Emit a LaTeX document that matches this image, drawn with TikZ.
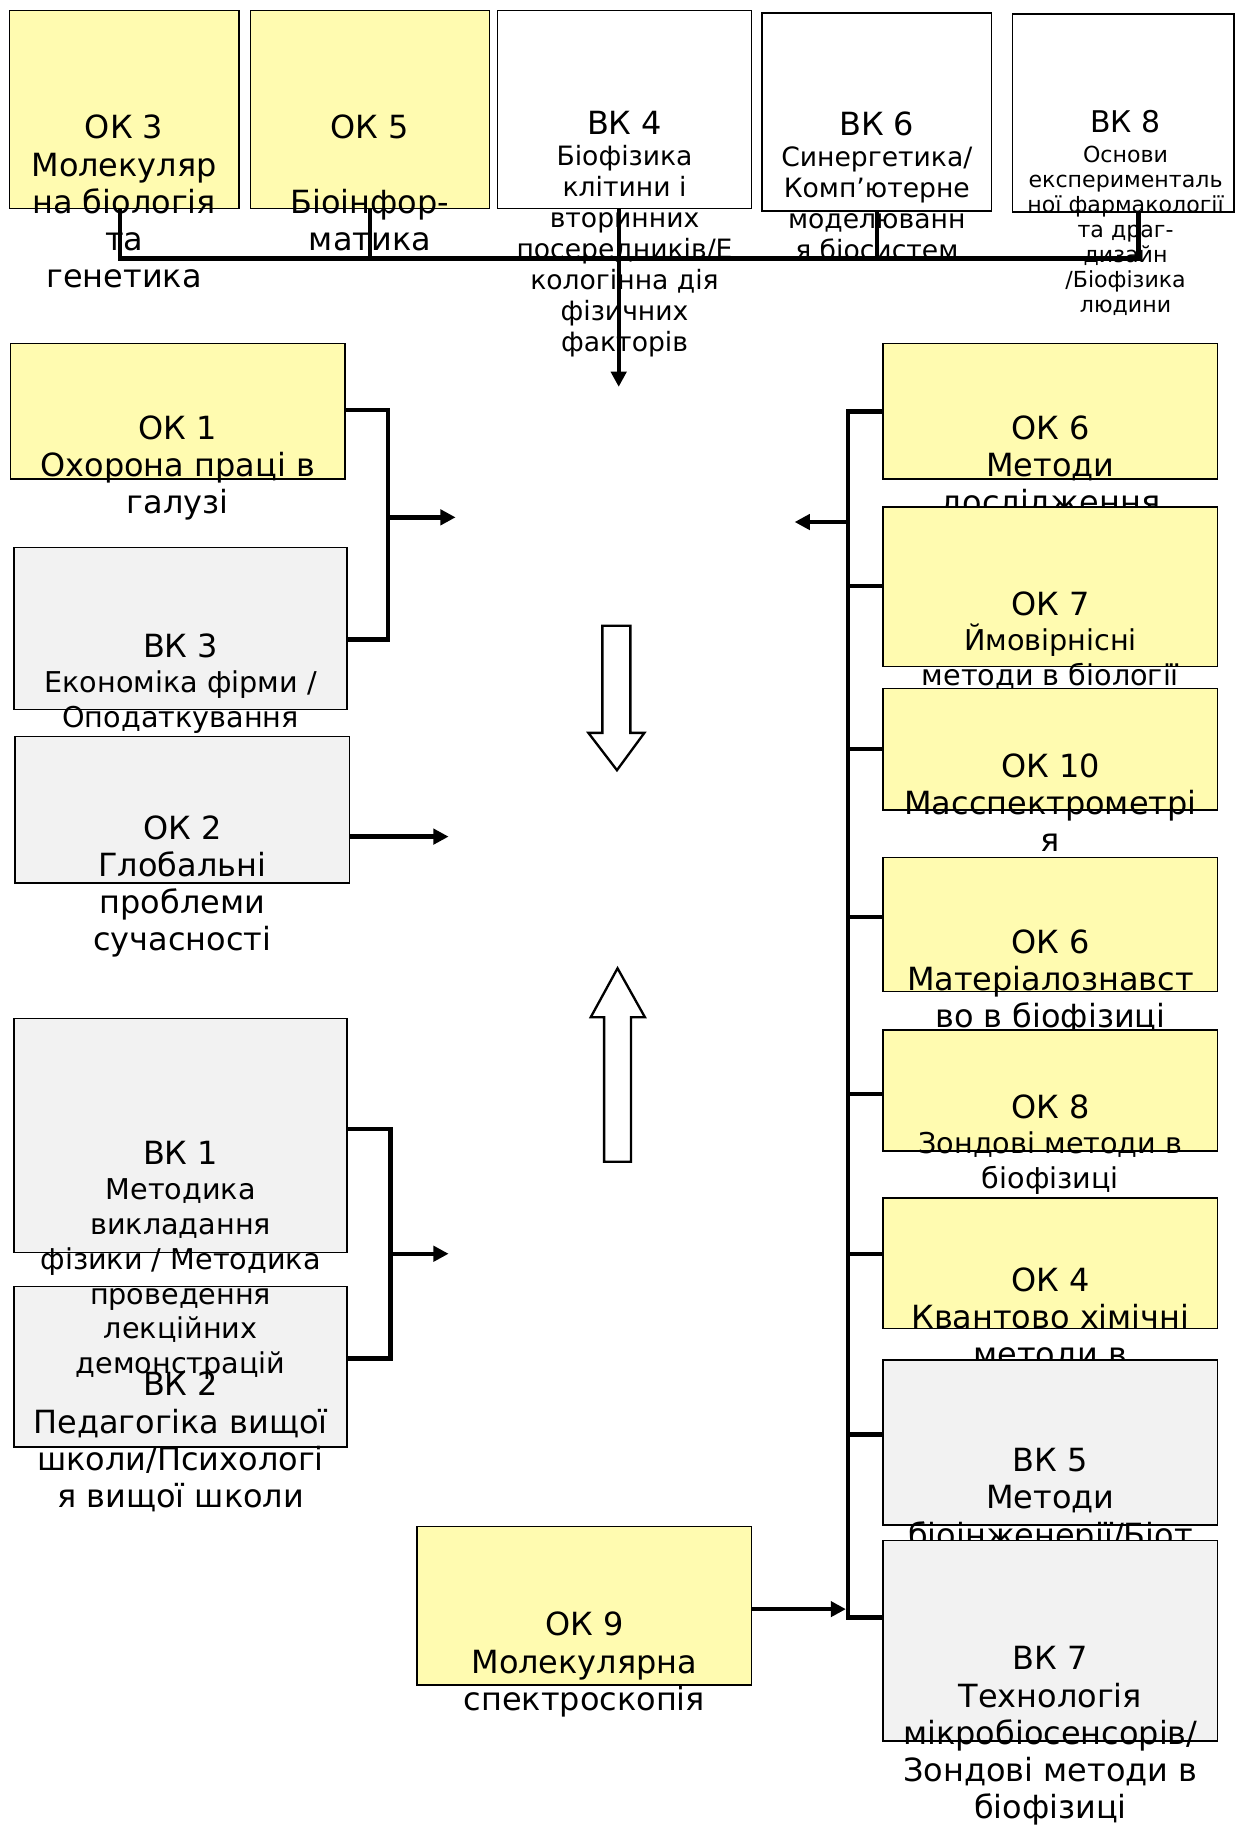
\documentclass[tikz,border=0pt]{standalone}
\usepackage{fontspec}
\setmainfont{DejaVu Sans}
\usetikzlibrary{arrows.meta,fit}
\definecolor{okyellow}{HTML}{FFFBB0}
\definecolor{vkgrey}{HTML}{F2F2F2}
\newcommand\fbig{\fontsize{7.8}{9.1}\selectfont}
\newcommand\fsub{\fontsize{7.0}{8.5}\selectfont}
\newcommand\fvk{\fontsize{6.5}{7.6}\selectfont}
\newcommand\fsmall{\fontsize{5.4}{6.1}\selectfont}
\tikzset{
  cbox/.style={draw=black, line width=0.13mm, inner sep=0pt},
  okbox/.style={cbox, fill=okyellow},
  vkbox/.style={cbox, fill=vkgrey},
  wbox/.style={cbox, fill=white},
  txt/.style={anchor=base, align=center, inner sep=0pt, font=\fbig},
  bus/.style={line width=0.38mm},
  busarrow/.style={bus, -{Triangle[length=1.3mm,width=1.3mm]}},
  hollow/.style={draw=black, line width=0.2mm, fill=white}
}
\begin{document}
\begin{tikzpicture}[x=0.1mm,y=-0.1mm]
    \useasboundingbox (0,0) rectangle (1060,1568);
    % top row (text placed by the baseline of its last line)
    \node[okbox, fit={(8,9) (205,179)}] (ok3) {};
    \node[txt] (ok3t) at (106.5,247) {ОК 3\\Молекуляр\\на біологія\\та\\генетика};
    \node[okbox, fit={(215,9) (420,179)}] (ok5) {};
    \node[txt] (ok5t) at (317.5,215) {ОК 5\\\mbox{}\\Біоінфор-\\матика};
    \node[wbox, fit={(427,9) (645,179)}] (vk4) {};
    \node[txt, font=\fvk] (vk4t) at (536,302) {{\fbig ВК 4}\\Біофізика\\клітини і\\вторинних\\посередників/Е\\кологінна дія\\фізичних\\факторів};
    \node[wbox, fit={(654,11) (851,181)}] (vk6) {};
    \node[txt, font=\fvk] (vk6t) at (752.5,223) {{\fbig ВК 6}\\Синергетика/\\Комп’ютерне\\моделюванн\\я біосистем};
    \node[wbox, fit={(869,12) (1059,182)}] (vk8) {};
    \node[txt, font=\fsmall] (vk8t) at (966,268) {{\fontsize{7.3}{6.1}\selectfont ВК 8}\\[1.2pt]Основи\\експерименталь\\ної фармакології\\та драг-\\дизайн\\/Біофізика\\людини};

    % left column
    \node[okbox, fit={(9,295) (296,411)}] (ok1) {};
    \node[txt] (ok1t) at (152.5,441) {ОК 1\\Охорона праці в\\галузі};
    \node[vkbox, fit={(12,470) (298,609)}] (vk3) {};
    \node[txt, font=\fsub] (vk3t) at (155,624) {{\fbig ВК 3}\\Економіка фірми /\\Оподаткування};
    \node[vkbox, fit={(13,632) (300,758)}] (ok2) {};
    \node[txt] (ok2t) at (156.5,816) {ОК 2\\Глобальні\\проблеми\\сучасності};
    \node[vkbox, fit={(12,1104) (298,1242)}] (vk2) {};
    \node[txt] (vk2t) at (155,1294) {ВК 2\\Педагогіка вищої\\школи/Психологі\\я вищої школи};
    \node[vkbox, fit={(12,874) (298,1075)}] (vk1) {};
    \node[txt, font=\fsub] (vk1t) at (155,1179) {{\fbig ВК 1}\\Методика\\викладання\\фізики / Методика\\проведення\\лекційних\\демонстрацій};

    % right column
    \node[okbox, fit={(758,295) (1045,411)}] (ok6) {};
    \node[txt] (ok6t) at (901.5,441) {ОК 6\\Методи\\дослідження};
    \node[okbox, fit={(758,435) (1045,572)}] (ok7) {};
    \node[txt, font=\fsub] (ok7t) at (901.5,588) {{\fbig ОК 7}\\Ймовірнісні\\методи в біології};
    \node[okbox, fit={(758,591) (1045,695)}] (ok10) {};
    \node[txt] (ok10t) at (901.5,731) {ОК 10\\Масспектрометрі\\я};
    \node[okbox, fit={(758,736) (1045,851)}] (ok6b) {};
    \node[txt] (ok6bt) at (901.5,882) {ОК 6\\Матеріалознавст\\во в біофізиці};
    \node[okbox, fit={(758,884) (1045,988)}] (ok8) {};
    \node[txt, font=\fsub] (ok8t) at (901.5,1020) {{\fbig ОК 8}\\Зондові методи в\\біофізиці};
    \node[okbox, fit={(758,1028) (1045,1140)}] (ok4) {};
    \node[txt] (ok4t) at (901.5,1172) {ОК 4\\Квантово хімічні\\методи в};
    \node[vkbox, fit={(758,1167) (1045,1309)}] (vk5) {};
    \node[txt] (vk5t) at (901.5,1327) {ВК 5\\Методи\\біоінженерії/Біот};
    \node[vkbox, fit={(758,1322) (1045,1494)}] (vk7) {};
    \node[txt] (vk7t) at (901.5,1561) {ВК 7\\Технологія\\мікробіосенсорів/\\Зондові методи в\\біофізиці};

    % bottom middle
    \node[okbox, fit={(358,1310) (645,1446)}] (ok9) {};
    \node[txt] (ok9t) at (501.5,1468) {ОК 9\\Молекулярна\\спектроскопія};

    % hollow arrows
    \draw[hollow] (517,537) -- (541,537) -- (541,629) -- (553,629) -- (529.5,661)
        -- (505,629) -- (517,629) -- cycle;
    \draw[hollow] (530,831) -- (553.5,873) -- (541.5,873) -- (541.5,997)
        -- (518.5,997) -- (518.5,873) -- (507,873) -- cycle;

    % top bus
    \coordinate (tbl) at (103,222);
    \coordinate (tbr) at (977,222);
    \coordinate (tin) at (531,332);
    \draw[bus] (ok3.south -| tbl) -- (tbl) -- (tbr) -- (vk8.south -| tbr);
    \draw[bus] (ok5.south) -- (ok5.south |- tbl);
    \draw[bus] (vk6.south) -- (vk6.south |- tbl);
    \draw[busarrow] (vk4.south -| tin) -- (tin);

    % left brackets
    \coordinate (la) at (333,352);
    \coordinate (lb) at (333,549);
    \coordinate (lm) at (333,444);
    \coordinate (lout) at (391,444);
    \draw[bus] (ok1.east |- la) -- (la) -- (lb) -- (vk3.east |- lb);
    \draw[busarrow] (lm) -- (lout);
    \coordinate (l2out) at (385,718);
    \draw[busarrow] (ok2.east |- l2out) -- (l2out);
    \coordinate (lc) at (335,969);
    \coordinate (ld) at (335,1166);
    \coordinate (ln) at (335,1076);
    \coordinate (l3out) at (385,1076);
    \draw[bus] (vk1.east |- lc) -- (lc) -- (ld) -- (vk2.east |- ld);
    \draw[busarrow] (ln) -- (l3out);

    % right bus
    \coordinate (rtop) at (728,353);
    \coordinate (rbot) at (728,1388);
    \draw[bus] (ok6.west |- rtop) -- (rtop) -- (rbot) -- (vk7.west |- rbot);
    \foreach \b/\y in {ok7/503, ok10/643, ok6b/787, ok8/939, ok4/1076, vk5/1231}{
        \coordinate (stub) at (728,\y);
        \draw[bus] (stub) -- (\b.west |- stub);
        };
    \coordinate (rm) at (728,448);
    \coordinate (rout) at (682,448);
    \draw[busarrow] (rm) -- (rout);
    \coordinate (r9) at (726,1381);
    \draw[busarrow] (ok9.east |- r9) -- (r9);
\end{tikzpicture}
\end{document}
